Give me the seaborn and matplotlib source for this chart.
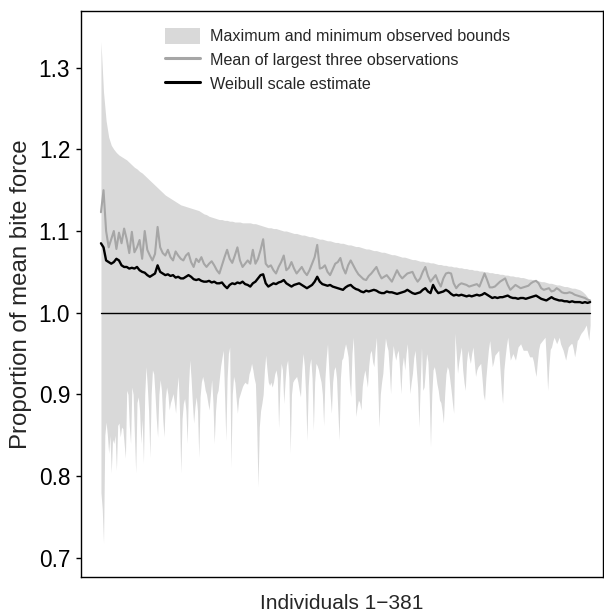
import numpy as np
import pandas as pd
import matplotlib
matplotlib.use("Agg")
import matplotlib.pyplot as plt
from matplotlib.patches import Patch
from matplotlib.lines import Line2D
import seaborn as sns

# ---- data ----
# upper bound / lines: sampled every 2nd individual (1, 3, ..., 381)
upper_bound = [
    1.332, 1.270, 1.235, 1.215, 1.205, 1.200, 1.196, 1.193, 1.191, 1.189,
    1.187, 1.184, 1.181, 1.178, 1.176, 1.173, 1.171, 1.168, 1.165, 1.162,
    1.159, 1.156, 1.153, 1.150, 1.147, 1.144, 1.142, 1.140, 1.138, 1.136,
    1.134, 1.132, 1.131, 1.130, 1.129, 1.128, 1.127, 1.126, 1.125, 1.123,
    1.121, 1.120, 1.118, 1.117, 1.116, 1.115, 1.114, 1.114, 1.113, 1.113,
    1.112, 1.112, 1.111, 1.111, 1.111, 1.110, 1.110, 1.110, 1.110, 1.109,
    1.109, 1.108, 1.107, 1.106, 1.105, 1.104, 1.104, 1.103, 1.103, 1.102,
    1.101, 1.100, 1.100, 1.099, 1.098, 1.097, 1.097, 1.096, 1.095, 1.095,
    1.094, 1.093, 1.093, 1.092, 1.091, 1.090, 1.090, 1.089, 1.088, 1.088,
    1.087, 1.086, 1.086, 1.085, 1.085, 1.084, 1.083, 1.083, 1.082, 1.081,
    1.081, 1.080, 1.079, 1.078, 1.078, 1.077, 1.076, 1.076, 1.075, 1.074,
    1.074, 1.073, 1.072, 1.071, 1.071, 1.070, 1.069, 1.068, 1.068, 1.067,
    1.066, 1.065, 1.065, 1.064, 1.063, 1.063, 1.062, 1.062, 1.061, 1.061,
    1.060, 1.059, 1.059, 1.058, 1.058, 1.057, 1.057, 1.056, 1.056, 1.055,
    1.055, 1.054, 1.054, 1.053, 1.053, 1.052, 1.052, 1.051, 1.051, 1.050,
    1.050, 1.049, 1.049, 1.048, 1.048, 1.047, 1.047, 1.046, 1.046, 1.045,
    1.045, 1.044, 1.044, 1.043, 1.043, 1.042, 1.041, 1.041, 1.040, 1.040,
    1.039, 1.038, 1.038, 1.037, 1.036, 1.036, 1.035, 1.034, 1.034, 1.033,
    1.032, 1.032, 1.031, 1.030, 1.030, 1.029, 1.028, 1.026, 1.023, 1.019,
    1.014]

mean_top3 = [
    1.123, 1.150, 1.100, 1.080, 1.090, 1.100, 1.078, 1.098, 1.085, 1.103,
    1.090, 1.073, 1.099, 1.074, 1.080, 1.089, 1.066, 1.100, 1.077, 1.070,
    1.064, 1.072, 1.105, 1.080, 1.073, 1.070, 1.077, 1.068, 1.064, 1.075,
    1.070, 1.066, 1.064, 1.070, 1.073, 1.062, 1.056, 1.066, 1.062, 1.068,
    1.060, 1.056, 1.060, 1.063, 1.058, 1.052, 1.048, 1.058, 1.068, 1.077,
    1.066, 1.061, 1.070, 1.080, 1.064, 1.056, 1.060, 1.064, 1.060, 1.077,
    1.060, 1.066, 1.077, 1.090, 1.060, 1.056, 1.058, 1.052, 1.048, 1.056,
    1.062, 1.070, 1.052, 1.055, 1.062, 1.054, 1.048, 1.052, 1.056, 1.050,
    1.046, 1.052, 1.060, 1.068, 1.083, 1.054, 1.055, 1.058, 1.050, 1.046,
    1.053, 1.060, 1.062, 1.067, 1.055, 1.048, 1.058, 1.064, 1.058, 1.052,
    1.047, 1.044, 1.041, 1.040, 1.045, 1.048, 1.052, 1.056, 1.048, 1.042,
    1.044, 1.046, 1.042, 1.038, 1.045, 1.052, 1.046, 1.042, 1.045, 1.048,
    1.049, 1.050, 1.043, 1.038, 1.042, 1.050, 1.056, 1.045, 1.038, 1.042,
    1.046, 1.038, 1.032, 1.042, 1.048, 1.049, 1.048, 1.036, 1.030, 1.034,
    1.036, 1.035, 1.034, 1.032, 1.033, 1.034, 1.035, 1.032, 1.040, 1.048,
    1.040, 1.031, 1.031, 1.032, 1.035, 1.038, 1.040, 1.042, 1.034, 1.028,
    1.031, 1.034, 1.032, 1.030, 1.031, 1.032, 1.033, 1.036, 1.038, 1.039,
    1.036, 1.030, 1.028, 1.029, 1.030, 1.026, 1.027, 1.030, 1.028, 1.025,
    1.024, 1.024, 1.025, 1.024, 1.022, 1.021, 1.020, 1.019, 1.018, 1.016,
    1.015]

weibull_scale = [
    1.085, 1.080, 1.064, 1.062, 1.060, 1.062, 1.066, 1.064, 1.058, 1.056,
    1.056, 1.054, 1.055, 1.054, 1.056, 1.052, 1.050, 1.049, 1.046, 1.044,
    1.046, 1.048, 1.058, 1.050, 1.048, 1.046, 1.047, 1.045, 1.046, 1.043,
    1.044, 1.042, 1.042, 1.044, 1.046, 1.044, 1.041, 1.040, 1.041, 1.039,
    1.038, 1.038, 1.039, 1.037, 1.038, 1.036, 1.036, 1.037, 1.033, 1.030,
    1.034, 1.036, 1.035, 1.037, 1.036, 1.038, 1.035, 1.034, 1.032, 1.036,
    1.038, 1.042, 1.046, 1.047, 1.036, 1.032, 1.034, 1.036, 1.035, 1.037,
    1.038, 1.040, 1.036, 1.034, 1.032, 1.034, 1.035, 1.036, 1.034, 1.032,
    1.030, 1.032, 1.034, 1.038, 1.044, 1.038, 1.035, 1.034, 1.033, 1.034,
    1.032, 1.031, 1.030, 1.029, 1.028, 1.031, 1.033, 1.034, 1.031, 1.029,
    1.028, 1.026, 1.025, 1.027, 1.026, 1.027, 1.028, 1.027, 1.025, 1.024,
    1.024, 1.026, 1.025, 1.025, 1.024, 1.023, 1.024, 1.025, 1.026, 1.028,
    1.026, 1.024, 1.023, 1.024, 1.025, 1.028, 1.030, 1.026, 1.024, 1.034,
    1.028, 1.024, 1.025, 1.026, 1.028, 1.026, 1.023, 1.021, 1.022, 1.021,
    1.022, 1.021, 1.020, 1.021, 1.020, 1.021, 1.022, 1.021, 1.022, 1.024,
    1.022, 1.020, 1.018, 1.019, 1.018, 1.019, 1.019, 1.020, 1.021, 1.019,
    1.018, 1.018, 1.017, 1.018, 1.018, 1.017, 1.018, 1.019, 1.020, 1.021,
    1.019, 1.017, 1.016, 1.015, 1.017, 1.019, 1.017, 1.016, 1.015, 1.015,
    1.014, 1.014, 1.013, 1.014, 1.013, 1.013, 1.013, 1.012, 1.013, 1.012,
    1.013]

# lower bound: every individual 1..381
lower_bound = [
    0.780, 0.760, 0.718, 0.850, 0.866, 0.850, 0.828, 0.850, 0.804, 0.845,
    0.840, 0.850, 0.807, 0.862, 0.865, 0.848, 0.860, 0.858, 0.840, 0.822,
    0.905, 0.900, 0.862, 0.840, 0.909, 0.900, 0.850, 0.804, 0.890, 0.897,
    0.880, 0.840, 0.870, 0.816, 0.900, 0.934, 0.910, 0.880, 0.823, 0.900,
    0.930, 0.925, 0.900, 0.870, 0.848, 0.900, 0.918, 0.905, 0.870, 0.848,
    0.895, 0.909, 0.900, 0.881, 0.890, 0.895, 0.901, 0.890, 0.877, 0.905,
    0.922, 0.880, 0.804, 0.870, 0.889, 0.895, 0.880, 0.840, 0.910, 0.942,
    0.920, 0.890, 0.865, 0.885, 0.897, 0.880, 0.823, 0.897, 0.915, 0.922,
    0.915, 0.905, 0.900, 0.890, 0.881, 0.900, 0.918, 0.890, 0.840, 0.880,
    0.900, 0.905, 0.920, 0.935, 0.945, 0.954, 0.900, 0.844, 0.920, 0.950,
    0.958, 0.811, 0.900, 0.922, 0.915, 0.895, 0.877, 0.895, 0.900, 0.905,
    0.910, 0.913, 0.915, 0.913, 0.913, 0.925, 0.930, 0.938, 0.930, 0.920,
    0.913, 0.860, 0.787, 0.860, 0.880, 0.889, 0.900, 0.930, 0.948, 0.930,
    0.915, 0.911, 0.915, 0.909, 0.915, 0.925, 0.930, 0.920, 0.859, 0.910,
    0.938, 0.930, 0.889, 0.915, 0.935, 0.942, 0.920, 0.828, 0.900, 0.915,
    0.918, 0.920, 0.922, 0.915, 0.905, 0.897, 0.930, 0.950, 0.935, 0.900,
    0.844, 0.910, 0.935, 0.944, 0.920, 0.856, 0.915, 0.938, 0.935, 0.930,
    0.922, 0.915, 0.900, 0.862, 0.920, 0.945, 0.962, 0.930, 0.900, 0.877,
    0.915, 0.930, 0.934, 0.920, 0.880, 0.844, 0.920, 0.942, 0.945, 0.955,
    0.962, 0.955, 0.946, 0.915, 0.897, 0.950, 0.970, 0.930, 0.873, 0.885,
    0.893, 0.890, 0.881, 0.910, 0.922, 0.930, 0.920, 0.909, 0.935, 0.950,
    0.954, 0.940, 0.934, 0.955, 0.970, 0.913, 0.860, 0.900, 0.915, 0.926,
    0.950, 0.969, 0.960, 0.954, 0.930, 0.901, 0.940, 0.960, 0.950, 0.942,
    0.950, 0.954, 0.930, 0.901, 0.935, 0.946, 0.930, 0.950, 0.962, 0.935,
    0.901, 0.915, 0.926, 0.945, 0.954, 0.930, 0.909, 0.860, 0.913, 0.958,
    0.905, 0.909, 0.930, 0.950, 0.940, 0.900, 0.836, 0.900, 0.930, 0.934,
    0.925, 0.913, 0.905, 0.893, 0.890, 0.880, 0.865, 0.900, 0.925, 0.934,
    0.930, 0.918, 0.905, 0.890, 0.877, 0.975, 0.950, 0.926, 0.940, 0.950,
    0.958, 0.930, 0.915, 0.905, 0.940, 0.954, 0.945, 0.938, 0.950, 0.958,
    0.940, 0.922, 0.930, 0.934, 0.936, 0.938, 0.920, 0.900, 0.893, 0.920,
    0.938, 0.955, 0.966, 0.950, 0.934, 0.940, 0.948, 0.950, 0.952, 0.954,
    0.930, 0.905, 0.889, 0.930, 0.946, 0.960, 0.970, 0.955, 0.942, 0.946,
    0.950, 0.946, 0.942, 0.950, 0.958, 0.960, 0.962, 0.958, 0.954, 0.954,
    0.954, 0.954, 0.950, 0.946, 0.946, 0.946, 0.940, 0.930, 0.922, 0.940,
    0.955, 0.962, 0.964, 0.966, 0.968, 0.970, 0.940, 0.905, 0.935, 0.955,
    0.958, 0.965, 0.970, 0.966, 0.962, 0.966, 0.970, 0.962, 0.958, 0.954,
    0.948, 0.942, 0.950, 0.958, 0.960, 0.962, 0.962, 0.955, 0.946, 0.955,
    0.966, 0.968, 0.972, 0.975, 0.977, 0.979, 0.982, 0.985, 0.975, 0.966,
    0.985]

n_individuals = 381
ind_every2 = np.arange(1, n_individuals + 1, 2)
ind_all = np.arange(1, n_individuals + 1)

yticks = [0.7, 0.8, 0.9, 1.0, 1.1, 1.2, 1.3]
ytick_labels = ["0.7", "0.8", "0.9", "1.0", "1.1", "1.2", "1.3"]

legend_labels = ["Maximum and minimum observed bounds",
                 "Mean of largest three observations",
                 "Weibull scale estimate"]

df_top = pd.DataFrame({"individual": ind_every2, "upper": upper_bound,
                       "mean3": mean_top3, "weibull": weibull_scale})
df_low = pd.DataFrame({"individual": ind_all, "lower": lower_bound})

# ---- style ----
sns.set_style("ticks")
plt.rcParams["font.family"] = ["Liberation Sans", "DejaVu Sans"]

fill_col = "#d9d9d9"
grey_col = "#a6a6a6"

fig = plt.figure(figsize=(6.04, 6.12), dpi=100)
ax = fig.add_axes([81 / 604, 1 - 577 / 612, 522 / 604, 566 / 612])

ax.fill_between(df_top["individual"], 1.0, df_top["upper"],
                color=fill_col, linewidth=0, zorder=1)
ax.fill_between(df_low["individual"], df_low["lower"], 1.0,
                color=fill_col, linewidth=0, zorder=1)
ax.axhline(1.0, xmin=(1 + 14.5) / (391 + 14.5), xmax=(381 + 14.5) / (391 + 14.5),
           color="black", linewidth=1.0, zorder=2)
sns.lineplot(data=df_top, x="individual", y="mean3", ax=ax, color=grey_col,
             linewidth=1.5, zorder=3, estimator=None, sort=False)
sns.lineplot(data=df_top, x="individual", y="weibull", ax=ax, color="black",
             linewidth=1.7, zorder=4, estimator=None, sort=False)

ax.set_xlim(-14.5, 391)
ax.set_ylim(0.6765, 1.3693)
ax.set_xticks([])
ax.set_yticks(yticks)
ax.set_yticklabels(ytick_labels)
ax.tick_params(axis="y", direction="out", length=3.8, width=1, pad=4,
               labelsize=16.3, colors="black")
for s in ax.spines.values():
    s.set_visible(True)
    s.set_linewidth(1.0)
    s.set_color("black")

ax.set_xlabel("Individuals 1\u2212381", fontsize=15, labelpad=12)
ax.set_ylabel("Proportion of mean bite force", fontsize=17.3, labelpad=5)

handles = [Patch(facecolor=fill_col, edgecolor="none"),
           Line2D([], [], color=grey_col, linewidth=2.2),
           Line2D([], [], color="black", linewidth=2.2)]
ax.legend(handles, legend_labels, loc="upper left",
          bbox_to_anchor=((165 - 81) / 522, (577 - 28) / 566),
          frameon=False, fontsize=11.6, handlelength=2.2, handleheight=1.15,
          handletextpad=0.6, labelspacing=0.45, borderpad=0, borderaxespad=0)

fig.savefig("out.png", dpi=100)
